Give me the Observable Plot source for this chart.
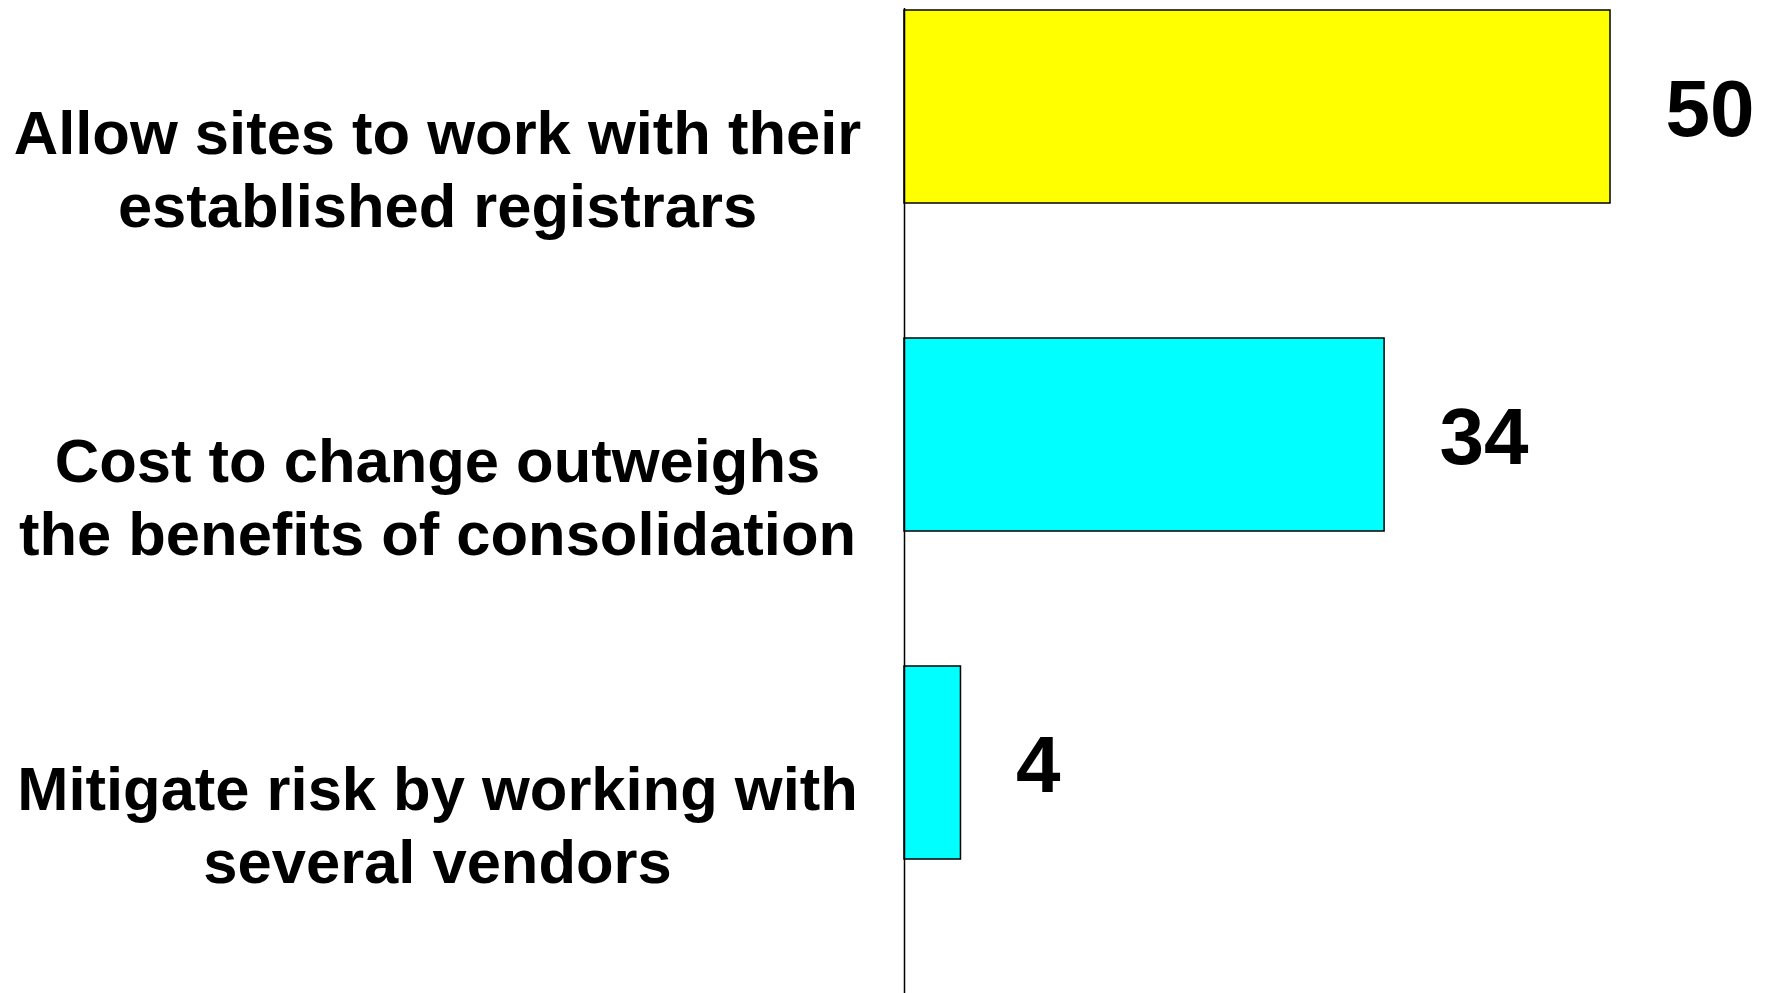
<!DOCTYPE html>
<html>
<head>
<meta charset="utf-8">
<script src="https://cdn.jsdelivr.net/npm/d3@7"></script>
<script src="https://cdn.jsdelivr.net/npm/@observablehq/plot@0.6"></script>
<style>
  html, body { margin: 0; padding: 0; background: #ffffff; }
  #chart svg { display: block; }
</style>
</head>
<body>
<div id="chart"></div>
<script>
// Data
const categories = [
  "Allow sites to work with their\nestablished registrars",
  "Cost to change outweighs\nthe benefits of consolidation",
  "Mitigate risk by working with\nseveral vendors"
];
const values = [50, 34, 4];
const barColors = ["#ffff00", "#00ffff", "#00ffff"];

const data = categories.map((c, i) => ({category: c, value: values[i]}));

const chart = Plot.plot({
  width: 1774,
  height: 993,
  marginTop: 8,
  marginBottom: 0,
  marginLeft: 904,
  marginRight: 0,
  style: {fontFamily: "'Liberation Sans', Arial, sans-serif", background: "#ffffff", color: "#000000"},
  x: {domain: [0, 50], range: [904, 1610], axis: null},
  y: {type: "band", domain: categories, range: [9, 859], paddingInner: 0.4125, paddingOuter: 0},
  color: {domain: categories, range: barColors},
  marks: [
    Plot.barX(data, {
      x: "value",
      y: "category",
      fill: "category",
      stroke: "#000000",
      strokeWidth: 1.5
    }),
    Plot.ruleX([0], {stroke: "#000000", strokeWidth: 1.5}),
    Plot.text(data, {
      x: "value",
      y: "category",
      text: d => String(d.value),
      textAnchor: "start",
      dx: 55,
      dy: 3,
      fontSize: 80,
      fontWeight: "bold",
      fill: "#000000"
    }),
    Plot.axisY({
      anchor: "left",
      tickSize: 0,
      tickPadding: 0,
      textAnchor: "middle",
      dx: -467,
      dy: 60,
      fontSize: 61.5,
      fontWeight: "bold",
      lineHeight: 1.19,
      label: null,
      fill: "#000000"
    })
  ]
});

document.getElementById("chart").appendChild(chart);
</script>
</body>
</html>
